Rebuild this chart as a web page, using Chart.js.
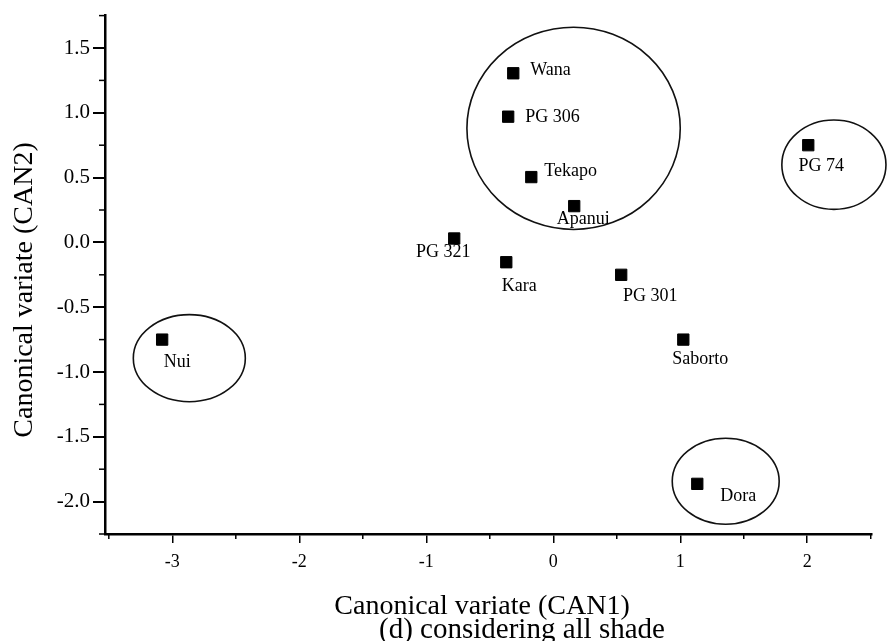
<!DOCTYPE html>
<html>
<head>
<meta charset="utf-8">
<script src="https://cdn.jsdelivr.net/npm/chart.js@4.4.0/dist/chart.umd.min.js"></script>
<style>
  html, body { margin: 0; padding: 0; background: #fff; }
  #wrap { width: 887px; height: 641px; position: relative; }
</style>
</head>
<body>
<div id="wrap"><canvas id="cva"></canvas></div>
<script>
// cultivar scores on the first two canonical variates
const cultivars = ['Wana', 'PG 306', 'Tekapo', 'Apanui', 'PG 321', 'Kara', 'PG 301', 'Saborto', 'PG 74', 'Nui', 'Dora']
const can1 = [-0.315, -0.355, -0.173, 0.165, -0.78, -0.37, 0.535, 1.024, 2.008, -3.08, 1.134]
const can2 = [1.305, 0.97, 0.504, 0.28, 0.03, -0.153, -0.25, -0.75, 0.75, -0.75, -1.863]

// grouping ellipses: centre and half-widths in CAN units
const groupCx = [0.16, 2.21, -2.866, 1.358]
const groupCy = [0.88, 0.60, -0.893, -1.843]
const groupRx = [0.84, 0.41, 0.441, 0.421]
const groupRy = [0.78, 0.345, 0.336, 0.332]

const xTicks = [-3, -2, -1, 0, 1, 2]
const yTicks = [-2.0, -1.5, -1.0, -0.5, 0.0, 0.5, 1.0, 1.5]

const SERIF = '"Liberation Serif", "Times New Roman", serif'

// where each name sits relative to its marker (px offset + alignment)
const labelPlace = {
  'Wana':    [17, -3, 'left'],
  'PG 306':  [17, 1, 'left'],
  'Tekapo':  [13, -6, 'left'],
  'Apanui':  [9, 13, 'center'],
  'PG 321':  [-11, 14, 'center'],
  'Kara':    [13, 24, 'center'],
  'PG 301':  [29, 21, 'center'],
  'Saborto': [17, 20, 'center'],
  'PG 74':   [13, 21, 'center'],
  'Nui':     [15, 23, 'center'],
  'Dora':    [41, 12, 'center']
}

const groupRings = {
  id: 'groupRings',
  beforeDatasetsDraw(chart) {
    const { ctx, scales: { x, y } } = chart
    ctx.save()
    ctx.strokeStyle = '#111'
    ctx.lineWidth = 1.6
    groupCx.forEach((cx, i) => {
      const px = x.getPixelForValue(cx)
      const py = y.getPixelForValue(groupCy[i])
      const rx = x.getPixelForValue(cx + groupRx[i]) - px
      const ry = py - y.getPixelForValue(groupCy[i] + groupRy[i])
      ctx.beginPath()
      ctx.ellipse(px, py, rx, ry, 0, 0, Math.PI * 2)
      ctx.stroke()
    })
    ctx.restore()
  }
}

const annotations = {
  id: 'annotations',
  afterDraw(chart) {
    const { ctx, scales: { x, y }, chartArea } = chart
    ctx.save()

    // minor ticks
    ctx.strokeStyle = '#000'
    ctx.lineWidth = 1.5
    for (let v = -3.5; v <= 2.5; v += 1) {
      const px = x.getPixelForValue(v)
      ctx.beginPath(); ctx.moveTo(px, chartArea.bottom); ctx.lineTo(px, chartArea.bottom + 5); ctx.stroke()
    }
    for (let v = -2.25; v <= 1.76; v += 0.5) {
      const py = y.getPixelForValue(v)
      ctx.beginPath(); ctx.moveTo(chartArea.left, py); ctx.lineTo(chartArea.left - 6, py); ctx.stroke()
    }

    // cultivar names
    ctx.fillStyle = '#000'
    ctx.font = '18px ' + SERIF
    ctx.textBaseline = 'middle'
    const meta = chart.getDatasetMeta(0)
    meta.data.forEach((pt, i) => {
      const [dx, dy, align] = labelPlace[cultivars[i]]
      ctx.textAlign = align
      ctx.fillText(cultivars[i], pt.x + dx, pt.y + dy)
    })

    // axis titles and caption
    ctx.textAlign = 'center'
    ctx.font = '28px ' + SERIF
    ctx.fillText('Canonical variate (CAN1)', 482, 607)
    ctx.save()
    ctx.translate(25, 290)
    ctx.rotate(-Math.PI / 2)
    ctx.fillText('Canonical variate (CAN2)', 0, 0)
    ctx.restore()
    ctx.font = '29px ' + SERIF
    ctx.fillText('(d) considering all shade', 522, 630)

    ctx.restore()
  }
}

const points = cultivars.map((name, i) => ({ x: can1[i], y: can2[i] }))

new Chart(document.getElementById('cva'), {
  type: 'scatter',
  data: {
    datasets: [{
      data: points,
      pointStyle: 'rect',
      pointRadius: 8,
      pointHoverRadius: 8,
      backgroundColor: '#000',
      borderColor: '#000',
      borderWidth: 1
    }]
  },
  options: {
    responsive: true,
    maintainAspectRatio: false,
    animation: false,
    layout: { padding: { left: 0, top: 10, right: 15, bottom: 0 } },
    plugins: {
      legend: { display: false },
      tooltip: { enabled: false }
    },
    scales: {
      x: {
        type: 'linear',
        min: -3.53,
        max: 2.51,
        afterBuildTicks: (scale) => { scale.ticks = xTicks.map(v => ({ value: v })) },
        afterFit: (scale) => { scale.height = 107 },
        border: { display: true, color: '#000', width: 2.5 },
        grid: { drawOnChartArea: false, drawTicks: true, tickLength: 9, color: '#000', lineWidth: 1.5 },
        ticks: {
          color: '#000',
          font: { family: SERIF, size: 18 },
          padding: 8,
          maxRotation: 0,
          callback: (v) => String(v)
        }
      },
      y: {
        type: 'linear',
        min: -2.25,
        max: 1.75,
        afterBuildTicks: (scale) => { scale.ticks = yTicks.map(v => ({ value: v })) },
        afterFit: (scale) => { scale.width = 105 },
        border: { display: true, color: '#000', width: 2.5 },
        grid: { drawOnChartArea: false, drawTicks: true, tickLength: 12, color: '#000', lineWidth: 2 },
        ticks: {
          color: '#000',
          font: { family: SERIF, size: 21 },
          padding: 3,
          callback: (v) => v.toFixed(1)
        }
      }
    }
  },
  plugins: [groupRings, annotations]
})
</script>
</body>
</html>
